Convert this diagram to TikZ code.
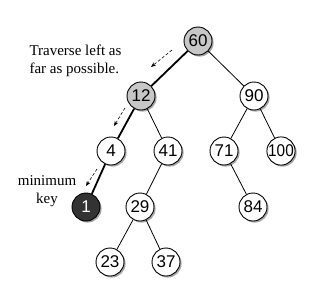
\documentclass[tikz,border=0pt]{standalone}
\usepackage{fontspec}
\setmainfont{Liberation Serif}
\newfontfamily\keyfont{Liberation Sans}
\usetikzlibrary{arrows.meta,shadows}
\begin{document}
\begin{tikzpicture}[x=1pt,y=-1pt,
  keynode/.style={circle,draw=black,line width=0.9pt,fill=white,minimum size=28pt,inner sep=0pt,
    font=\keyfont\fontsize{17}{17}\selectfont,
    drop shadow={shadow xshift=1.6pt,shadow yshift=-1.6pt,fill=black,opacity=0.35}},
  visited/.style={keynode,fill=black!22},
  minnode/.style={keynode,fill=black!80,text=white},
  edge/.style={line width=0.8pt},
  path/.style={line width=1.8pt},
  hint/.style={densely dashed,line width=0.6pt,-{Stealth[length=5pt,width=4pt]}},
  note/.style={font=\fontsize{15}{18}\selectfont}]
\useasboundingbox (0,0) rectangle (326,295);
% nodes of the search tree
\node[visited] (n60) at (198,41) {60};
\node[visited] (n12) at (141,96) {12};
\node[keynode] (n90) at (254,96) {90};
\node[keynode] (n4) at (111,151) {4};
\node[keynode] (n41) at (168,151) {41};
\node[keynode] (n71) at (224,151) {71};
\node[keynode] (n100) at (281,151) {\scalebox{0.9}[1]{100}};
\node[minnode] (n1) at (86,207) {1};
\node[keynode] (n29) at (140,207) {29};
\node[keynode] (n84) at (253,207) {84};
\node[keynode] (n23) at (110,262) {23};
\node[keynode] (n37) at (166,262) {37};
% tree edges
\draw[edge] (n60) -- (n90);
\draw[edge] (n12) -- (n41);
\draw[edge] (n90) -- (n71);
\draw[edge] (n90) -- (n100);
\draw[edge] (n41) -- (n29);
\draw[edge] (n71) -- (n84);
\draw[edge] (n29) -- (n23);
\draw[edge] (n29) -- (n37);
% the leftmost path down to the minimum
\draw[path] (n60) -- (n12);
\draw[path] (n12) -- (n4);
\draw[path] (n4) -- (n1);
% direction hints
\coordinate (h1s) at (172,50);
\coordinate (h1e) at (151,67);
\coordinate (h2s) at (125,108);
\coordinate (h2e) at (114,126);
\coordinate (h3s) at (97,169);
\coordinate (h3e) at (86,186);
\draw[hint] (h1s) -- (h1e);
\draw[hint] (h2s) -- (h2e);
\draw[hint] (h3s) -- (h3e);
% annotations
\node[note,align=left,anchor=west] (t1) at (26,61) {Traverse left as\\far as possible.};
\node[note,align=center] (t2) at (47,191) {minimum\\key};
\end{tikzpicture}
\end{document}
